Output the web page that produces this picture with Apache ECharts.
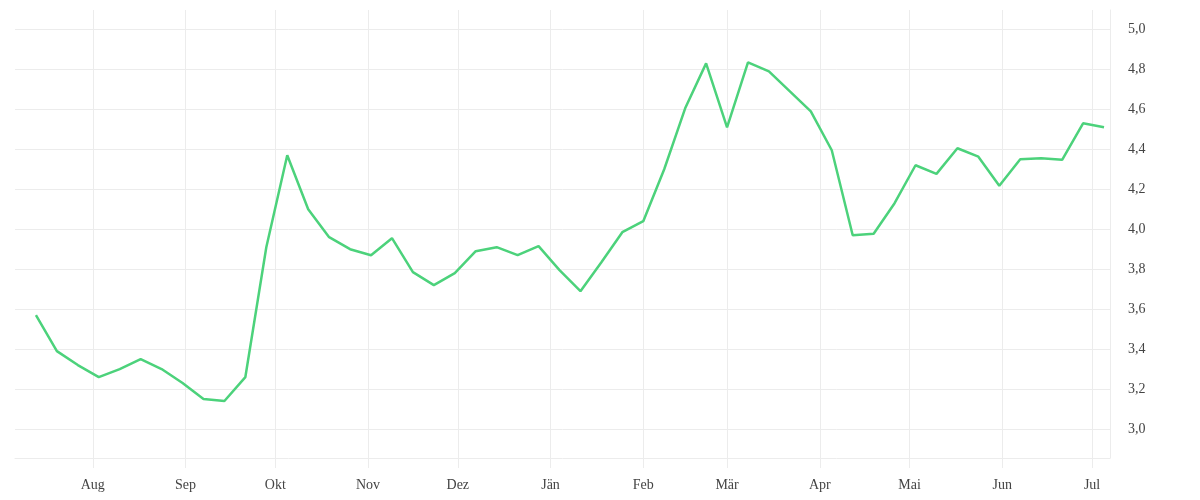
<!DOCTYPE html>
<html>
<head>
<meta charset="utf-8">
<script src="https://cdn.jsdelivr.net/npm/echarts@6/dist/echarts.min.js"></script>
<style>
  html, body { margin: 0; padding: 0; background: #ffffff; }
  #chart { width: 1200px; height: 500px; }
</style>
</head>
<body>
<div id="chart"></div>
<script>
const dates = [
  '2022-07-13','2022-07-20','2022-07-27','2022-08-03','2022-08-10','2022-08-17','2022-08-24','2022-08-31',
  '2022-09-07','2022-09-14','2022-09-21','2022-09-28','2022-10-05','2022-10-12','2022-10-19','2022-10-26',
  '2022-11-02','2022-11-09','2022-11-16','2022-11-23','2022-11-30','2022-12-07','2022-12-14','2022-12-21',
  '2022-12-28','2023-01-04','2023-01-11','2023-01-18','2023-01-25','2023-02-01','2023-02-08','2023-02-15',
  '2023-02-22','2023-03-01','2023-03-08','2023-03-15','2023-03-22','2023-03-29','2023-04-05','2023-04-12',
  '2023-04-19','2023-04-26','2023-05-03','2023-05-10','2023-05-17','2023-05-24','2023-05-31','2023-06-07',
  '2023-06-14','2023-06-21','2023-06-28','2023-07-05'
];
const values = [
  3.57, 3.39, 3.32, 3.26, 3.30, 3.35, 3.30, 3.23,
  3.15, 3.14, 3.26, 3.91, 4.37, 4.10, 3.96, 3.90,
  3.87, 3.955, 3.785, 3.72, 3.78, 3.89, 3.91, 3.87,
  3.915, 3.795, 3.69, 3.835, 3.985, 4.04, 4.30, 4.605,
  4.83, 4.51, 4.835, 4.79, 4.69, 4.59, 4.395, 3.97,
  3.977, 4.13, 4.32, 4.277, 4.405, 4.363, 4.217, 4.35,
  4.355, 4.347, 4.53, 4.51
];
const monthTicks = ['2022-08-01','2022-09-01','2022-10-01','2022-11-01','2022-12-01','2023-01-01',
                    '2023-02-01','2023-03-01','2023-04-01','2023-05-01','2023-06-01','2023-07-01'];
const monthLabels = ['Aug','Sep','Okt','Nov','Dez','Jän','Feb','Mär','Apr','Mai','Jun','Jul'];
const yTicks = [3.0, 3.2, 3.4, 3.6, 3.8, 4.0, 4.2, 4.4, 4.6, 4.8, 5.0];
const xMin = '2022-07-06';
const xMax = '2023-07-07';
const yMin = 2.855;
const yMax = 5.097;

function toTs(s) {
  const p = s.split('-').map(Number);
  return Date.UTC(p[0], p[1] - 1, p[2]);
}
const monthTs = monthTicks.map(toTs);

const chart = echarts.init(document.getElementById('chart'), null, { renderer: 'canvas' });
const gridColor = '#ececec';
const fontFamily = '"Liberation Serif", "DejaVu Serif", serif';

chart.setOption({
  animation: false,
  backgroundColor: '#ffffff',
  grid: { left: 15, right: 90, top: 10, bottom: 42, containLabel: false },
  xAxis: {
    type: 'value',
    min: toTs(xMin),
    max: toTs(xMax),
    axisLine: { show: true, lineStyle: { color: gridColor, width: 1 } },
    axisTick: { show: true, length: 10, customValues: monthTs, lineStyle: { color: gridColor } },
    splitLine: { show: true, lineStyle: { color: gridColor, width: 1 } },
    axisLabel: {
      customValues: monthTs,
      margin: 20,
      color: '#444',
      fontFamily: fontFamily,
      fontSize: 14,
      showMinLabel: true,
      showMaxLabel: true,
      formatter: function (v) {
        const i = monthTs.indexOf(v);
        return i >= 0 ? monthLabels[i] : '';
      }
    }
  },
  yAxis: {
    type: 'value',
    position: 'right',
    min: yMin,
    max: yMax,
    axisLine: { show: true, lineStyle: { color: gridColor, width: 1 } },
    axisTick: { show: false, customValues: yTicks },
    splitLine: { show: true, lineStyle: { color: gridColor, width: 1 } },
    axisLabel: {
      customValues: yTicks,
      margin: 18,
      padding: [4, 0, 0, 0],
      color: '#444',
      fontFamily: fontFamily,
      fontSize: 14,
      formatter: function (v) { return v.toFixed(1).replace('.', ','); }
    }
  },
  series: [{
    type: 'line',
    data: dates.map(function (d, i) { return [toTs(d), values[i]]; }),
    showSymbol: false,
    symbol: 'none',
    smooth: false,
    lineStyle: { color: '#4cd27b', width: 2.5 },
    itemStyle: { color: '#4cd27b' }
  }]
});
</script>
</body>
</html>
